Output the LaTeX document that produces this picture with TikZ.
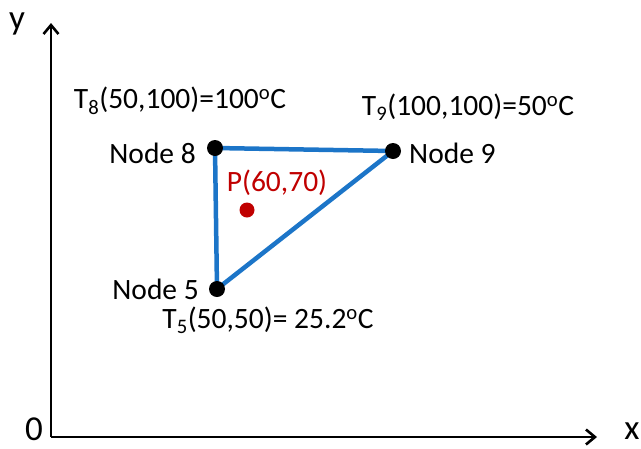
\documentclass[tikz,border=0pt]{standalone}
\usepackage{fontspec}
\setmainfont{Carlito}
\usetikzlibrary{arrows.meta}
\definecolor{edgeblue}{RGB}{28,117,200}
\definecolor{pred}{RGB}{192,0,0}
\begin{document}
\begin{tikzpicture}[x=1pt,y=-1pt,
  lbl/.style={inner sep=0pt,font=\fontsize{29.5}{34}\selectfont},
  axlbl/.style={inner sep=0pt,font=\fontsize{35}{40}\selectfont},
  dot/.style={circle,fill=black,inner sep=0pt,minimum size=16pt},
  axis/.style={line width=2.6pt,-{Straight Barb[length=9pt,width=15pt,line width=2.6pt]}},
  edge/.style={edgeblue,line width=4.5pt}]
\useasboundingbox (0,0) rectangle (641,448);
\coordinate (O) at (51,437);
\coordinate (ytip) at (51,23);
\coordinate (xtip) at (597,437);
\draw[axis] (O) -- (ytip);
\draw[axis] (O) -- (xtip);
\node[axlbl] (ylab) at (17,24) {y};
\node[axlbl] (xlab) at (632,431) {x};
\node[axlbl] (zero) at (34,429) {0};
\coordinate (n8) at (215,148);
\coordinate (n9) at (393,151);
\coordinate (n5) at (217,289);
\draw[edge] (n8) -- (n9) -- (n5) -- cycle;
\node[dot] (d8) at (n8) {};
\node[dot] (d9) at (n9) {};
\node[dot] (d5) at (n5) {};
\node[circle,fill=pred,inner sep=0pt,minimum size=15pt] (p) at (247,210) {};
\node[lbl,anchor=east] (l8) at (196,153) {Node 8};
\node[lbl,anchor=west] (l9) at (409,153) {Node 9};
\node[lbl,anchor=east] (l5) at (199,289) {Node 5};
\node[lbl,text=pred] (lp) at (277,183) {P(60,70)};
\node[lbl] (t8) at (180,101) {T\textsubscript{8}(50,100)=100\textsuperscript{o}C};
\node[lbl] (t9) at (468,107) {T\textsubscript{9}(100,100)=50\textsuperscript{o}C};
\node[lbl] (t5) at (268,320) {T\textsubscript{5}(50,50)= 25.2\textsuperscript{o}C};
\end{tikzpicture}
\end{document}
